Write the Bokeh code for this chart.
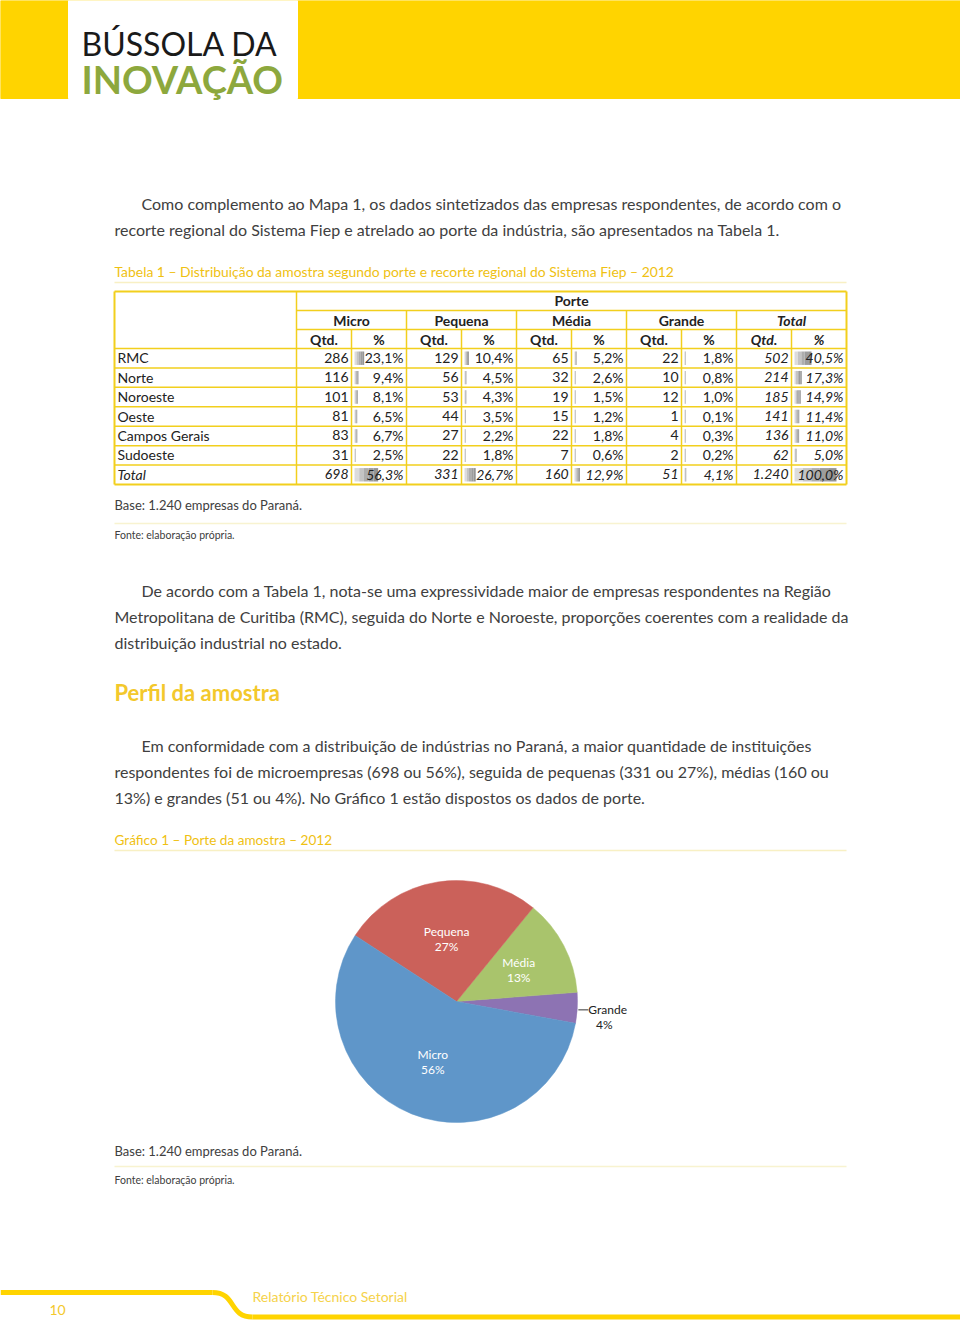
import math
from bokeh.plotting import figure
from bokeh.models import Range1d
from bokeh.core.properties import value
from bokeh.embed import file_html
from bokeh.resources import INLINE

# ---------------- data ----------------
regions = ["RMC", "Norte", "Noroeste", "Oeste", "Campos Gerais", "Sudoeste", "Total"]
micro_qtd = [286, 116, 101, 81, 83, 31, 698]
micro_pct = [23.1, 9.4, 8.1, 6.5, 6.7, 2.5, 56.3]
pequena_qtd = [129, 56, 53, 44, 27, 22, 331]
pequena_pct = [10.4, 4.5, 4.3, 3.5, 2.2, 1.8, 26.7]
media_qtd = [65, 32, 19, 15, 22, 7, 160]
media_pct = [5.2, 2.6, 1.5, 1.2, 1.8, 0.6, 12.9]
grande_qtd = [22, 10, 12, 1, 4, 2, 51]
grande_pct = [1.8, 0.8, 1.0, 0.1, 0.3, 0.2, 4.1]
total_qtd = [502, 214, 185, 141, 136, 62, 1240]
total_pct = [40.5, 17.3, 14.9, 11.4, 11.0, 5.0, 100.0]
groups = ["Micro", "Pequena", "Média", "Grande", "Total"]

pie_cats = ["Grande", "Média", "Pequena", "Micro"]
pie_share = [4.1, 12.9, 26.7, 56.3]
pie_labels = ["4%", "13%", "27%", "56%"]

# ---------------- figure (data coords = page pixels, y negated) ----------------
W, H = 960, 1320
p = figure(width=W, height=H, x_range=Range1d(0, W), y_range=Range1d(-H, 0),
           output_backend="svg", toolbar_location=None, min_border=0)
p.xaxis.visible = False
p.yaxis.visible = False
p.grid.visible = False
p.outline_line_color = None
p.background_fill_color = "white"
p.border_fill_color = "white"

YEL = "#FFD400"
GOLD = "#EFC112"
TXT = "#404040"
BODY_FONT = "Lato"
COND_FONT = "Lato"


def T(x, y, s, size, color=TXT, font=BODY_FONT, style="normal", align="left", base="middle"):
    p.text(x=[x], y=[-y], text=[s], text_font=value(font), text_font_size=f"{size}px",
           text_color=color, text_font_style=style, text_align=align, text_baseline=base)


def L(x0, y0, x1, y1, color, w):
    p.segment(x0=[x0], y0=[-y0], x1=[x1], y1=[-y1], line_color=color, line_width=w)


# ---------------- header ----------------
p.quad(left=[0], right=[W], top=[0], bottom=[-98], color=YEL)
p.quad(left=[68], right=[297], top=[0], bottom=[-98], color="white")
T(81, 43, "BÚSSOLA DA", 32, color="#1a1a1a", font="Lato")
T(81, 78, "INOVAÇÃO", 38, color="#8DA83D", font="Lato", style="bold")

# ---------------- paragraph 1 ----------------
BS = 16
para1 = ["Como complemento ao Mapa 1, os dados sintetizados das empresas respondentes, de acordo com o",
         "recorte regional do Sistema Fiep e atrelado ao porte da indústria, são apresentados na Tabela 1."]
T(141, 203, para1[0], BS)
T(114, 229, para1[1], BS)

T(114, 271, "Tabela 1 – Distribuição da amostra segundo porte e recorte regional do Sistema Fiep – 2012",
  13.9, color=GOLD, font=COND_FONT)
L(114, 282, 846, 282, "#F8F0C4", 1.5)

# ---------------- table ----------------
BC = "#F2CF1D"
cx = [296 + 55 * i for i in range(11)]
rh = (484 - 348) / 7.0
row_top = [348 + rh * i for i in range(7)]

# bars (gradient via slices)
pct_cols = [micro_pct, pequena_pct, media_pct, grande_pct, total_pct]
shades = ["#DCDCDC", "#C4C4C4", "#ADADAD", "#9C9C9C", "#949494"]
for g, pcts in enumerate(pct_cols):
    left0 = cx[2 * g + 1] + 3
    for r, v in enumerate(pcts):
        w = max(v / 100.0 * 42.0, 1.2)
        n = len(shades)
        lefts = [left0 + w * k / n for k in range(n)]
        rights = [left0 + w * (k + 1) / n for k in range(n)]
        p.quad(left=lefts, right=rights, top=[-(row_top[r] + 3)] * n, bottom=[-(row_top[r] + rh - 3)] * n,
               color=shades, line_color=None)

# grid lines
L(114, 291, 846, 291, BC, 2)
L(296, 310, 846, 310, BC, 1.5)
L(296, 329, 846, 329, BC, 1.5)
for i in range(7):
    L(114, row_top[i], 846, row_top[i], BC, 1.5)
L(114, 484, 846, 484, BC, 2)
L(114, 291, 114, 484, BC, 2)
L(846, 291, 846, 484, BC, 2)
L(296, 291, 296, 484, BC, 1.5)
for g in range(1, 5):
    L(cx[2 * g], 310, cx[2 * g], 484, BC, 1.5)
for g in range(5):
    L(cx[2 * g + 1], 329, cx[2 * g + 1], 484, BC, 1.5)

TS = 14
T(571, 300, "Porte", TS, style="bold", align="center", color="#222")
for g, name in enumerate(groups):
    st = "bold italic" if name == "Total" else "bold"
    T(cx[2 * g + 1], 319.5, name, TS, style=st, align="center", color="#222")
    T((cx[2 * g] + cx[2 * g + 1]) / 2, 338.5, "Qtd.", TS, style=st, align="center", color="#222")
    T((cx[2 * g + 1] + cx[2 * g + 2]) / 2, 338.5, "%", TS, style=st, align="center", color="#222")


def fq(v):
    return f"{v:,}".replace(",", ".")


def fp(v):
    return f"{v:.1f}%".replace(".", ",")


qtd_cols = [micro_qtd, pequena_qtd, media_qtd, grande_qtd, total_qtd]
for r, reg in enumerate(regions):
    yc = row_top[r] + rh / 2 - 0.5
    is_total_row = reg == "Total"
    T(117, yc, reg, TS, style="italic" if is_total_row else "normal", color="#222")
    for g in range(5):
        st = "italic" if (is_total_row or g == 4) else "normal"
        T(cx[2 * g + 1] - 3, yc, fq(qtd_cols[g][r]), TS, style=st, align="right", color="#222")
        T(cx[2 * g + 2] - 3, yc, fp(pct_cols[g][r]), TS, style=st, align="right", color="#222")

T(114, 504, "Base: 1.240 empresas do Paraná.", 13, color=TXT)
L(114, 523, 846, 523, "#F8F3D0", 1.5)
T(114, 534, "Fonte: elaboração própria.", 10.5, color=TXT)

# ---------------- paragraph 2 ----------------
para2 = ["De acordo com a Tabela 1, nota-se uma expressividade maior de empresas respondentes na Região",
         "Metropolitana de Curitiba (RMC), seguida do Norte e Noroeste, proporções coerentes com a realidade da",
         "distribuição industrial no estado."]
T(141, 590, para2[0], BS)
T(114, 616, para2[1], BS)
T(114, 642, para2[2], BS)

T(114, 692, "Perfil da amostra", 22, color="#F3C82C", style="bold")

para3 = ["Em conformidade com a distribuição de indústrias no Paraná, a maior quantidade de instituições",
         "respondentes foi de microempresas (698 ou 56%), seguida de pequenas (331 ou 27%), médias (160 ou",
         "13%) e grandes (51 ou 4%). No Gráfico 1 estão dispostos os dados de porte."]
T(141, 745, para3[0], BS)
T(114, 771, para3[1], BS)
T(114, 797, para3[2], BS)

T(114, 839, "Gráfico 1 – Porte da amostra – 2012", 13.6, color=GOLD, font=COND_FONT)
L(114, 850, 846, 850, "#F8F0C4", 1.5)

# ---------------- pie ----------------
PCX, PCY, R = 456, 1001, 121
pie_colors = {"Grande": "#8D73B3", "Média": "#A9C46C", "Pequena": "#CB615A", "Micro": "#5F96C9"}
start = math.radians(-10.4)
tot = sum(pie_share)
angles = []
a = start
for s in pie_share:
    b = a + s / tot * 2 * math.pi
    angles.append((a, b))
    a = b
p.wedge(x=[PCX] * 4, y=[-PCY] * 4, radius=R, radius_units="screen",
        start_angle=[a0 for a0, _ in angles], end_angle=[b0 for _, b0 in angles],
        fill_color=[pie_colors[c] for c in pie_cats], line_color=[pie_colors[c] for c in pie_cats],
        line_width=0.5)

for c, lab, (a0, b0) in zip(pie_cats, pie_labels, angles):
    mid = (a0 + b0) / 2
    if c == "Grande":
        ex, ey = PCX + R * 1.0 * math.cos(mid), PCY - R * math.sin(mid)
        L(ex + 1, ey + 2, ex + 11, ey + 2, "#333", 1)
        T(ex + 11, ey + 2, c, 12, color="#222", font="Lato")
        T(ex + 27, ey + 17, lab, 12, color="#222", font="Lato", align="center")
    else:
        fr = 0.58 if c == "Média" else 0.53
        lx, ly = PCX + R * fr * math.cos(mid), PCY - R * fr * math.sin(mid)
        T(lx, ly - 7, c, 12, color="white", font="Lato", align="center")
        T(lx, ly + 8, lab, 12, color="white", font="Lato", align="center")

T(114, 1150, "Base: 1.240 empresas do Paraná.", 13, color=TXT)
L(114, 1166, 846, 1166, "#F8F3D0", 1.5)
T(114, 1179, "Fonte: elaboração própria.", 10.5, color=TXT)

# ---------------- footer ----------------
L(0, 1292, 212, 1292, YEL, 5)
p.bezier(x0=[212], y0=[-1292], x1=[252], y1=[-1316.5], cx0=[236], cy0=[-1292], cx1=[228], cy1=[-1316.5],
         line_color=YEL, line_width=5)
L(252, 1316.5, W, 1316.5, YEL, 5)
T(57, 1309, "10", 14, color="#F3C82C", align="center")
T(252, 1296, "Relatório Técnico Setorial", 14, color="#F5D24A")

open("out.html", "w").write(file_html(p, INLINE))
